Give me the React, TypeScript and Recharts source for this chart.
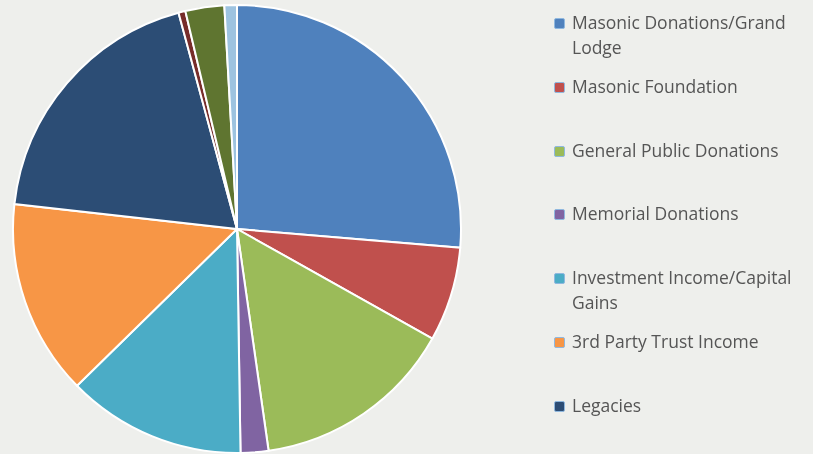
import { PieChart, Pie, Cell, Legend } from "recharts"

const names = [
  "Masonic Donations/Grand Lodge",
  "Masonic Foundation",
  "General Public Donations",
  "Memorial Donations",
  "Investment Income/Capital Gains",
  "3rd Party Trust Income",
  "Legacies",
  "Other Income",
  "Program Fees",
  "Miscellaneous",
]
const shares = [26.3, 6.8, 14.6, 2.0, 12.9, 14.1, 19.0, 0.5, 2.8, 0.9]
const colors = [
  "#4F81BD",
  "#C0504D",
  "#9BBB59",
  "#8064A2",
  "#4BACC6",
  "#F79646",
  "#2C4D75",
  "#772C2A",
  "#5F7530",
  "#9DC3E0",
]
const shownInLegend = 7

const data = names.map((name, i) => ({ name, value: shares[i] }))

// legend keeps data order (recharts would sort it), and only the first seven fit
function renderLegend() {
  return (
    <div style={{ width: 240 }}>
      {names.slice(0, shownInLegend).map((name, i) => (
        <div key={name} style={{ display: "flex", alignItems: "flex-start", height: 63.8 }}>
          <span
            style={{
              display: "inline-block",
              width: 9,
              height: 9,
              marginTop: 8,
              marginRight: 7,
              flexShrink: 0,
              background: colors[i],
              border: "1px solid #8fb8df",
              borderRadius: 2,
            }}
          />
          <span style={{ color: "#555555", fontSize: 17.5, lineHeight: "25px" }}>{name}</span>
        </div>
      ))}
    </div>
  )
}

export default function App() {
  return (
    <div
      style={{
        position: "fixed",
        top: 0,
        left: 0,
        width: 813,
        height: 454,
        background: "#EEEFEC",
        fontFamily: "'Open Sans', sans-serif",
      }}
    >
      <PieChart width={813} height={454} margin={{ top: 0, right: 0, bottom: 0, left: 0 }}>
        <Pie
          data={data}
          dataKey="value"
          nameKey="name"
          cx={237}
          cy={229}
          outerRadius={224}
          startAngle={90}
          endAngle={-270}
          stroke="#ffffff"
          strokeWidth={2}
          isAnimationActive={false}
        >
          {data.map((_, i) => (
            <Cell key={i} fill={colors[i]} />
          ))}
        </Pie>
        <Legend
          layout="vertical"
          align="right"
          verticalAlign="top"
          content={renderLegend}
          wrapperStyle={{ left: 554, top: 10, width: 250 }}
        />
      </PieChart>
    </div>
  )
}
